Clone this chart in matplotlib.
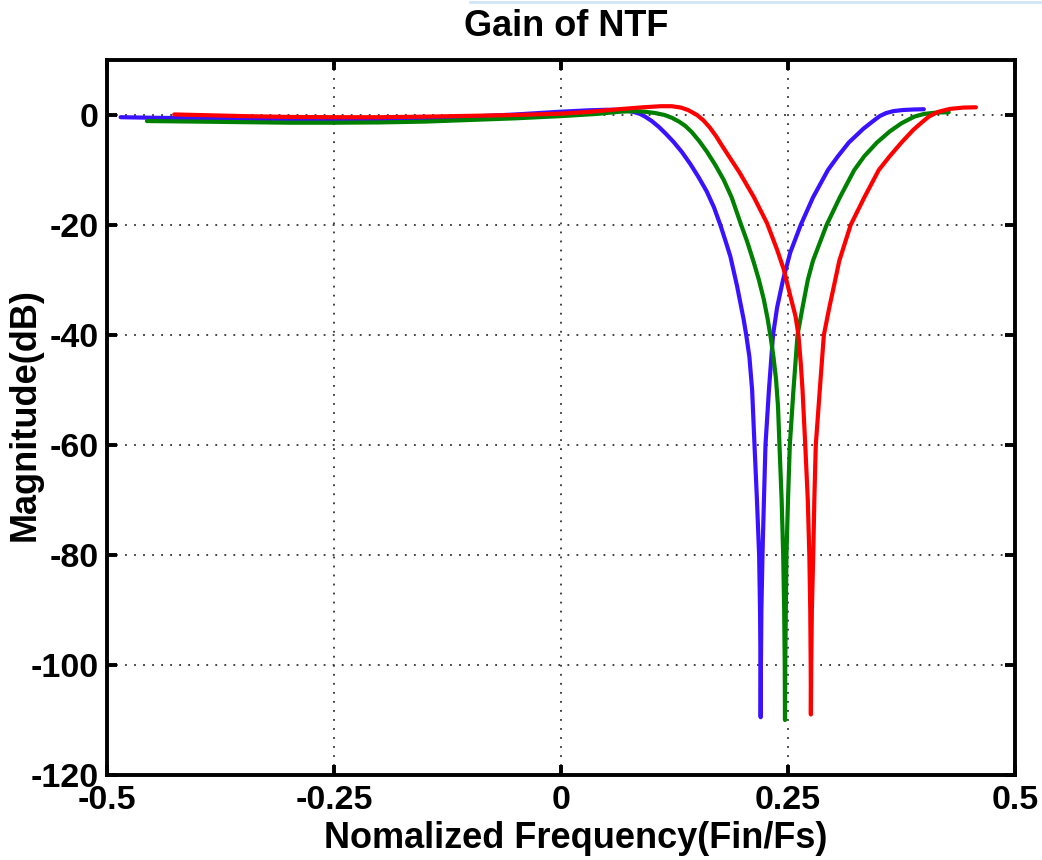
import matplotlib
matplotlib.use("Agg")
import matplotlib.pyplot as plt

# ---- data ----
blue_f = [-0.485, -0.45, -0.40, -0.35, -0.30, -0.25, -0.20, -0.15, -0.10, -0.05,
          0.0, 0.03, 0.05, 0.062, 0.072, 0.080, 0.087, 0.0927, 0.100, 0.108,
          0.116, 0.124, 0.133, 0.1424, 0.1515, 0.1605, 0.1685, 0.1755, 0.181, 0.1865,
          0.1939, 0.2012, 0.2040, 0.2075, 0.2105, 0.2131, 0.2158, 0.2182, 0.2192, 0.2197,
          0.2199,
          0.2202, 0.2207, 0.2219, 0.2235, 0.2252, 0.2290, 0.2335, 0.2380, 0.2445, 0.2525,
          0.2640, 0.2775, 0.2940, 0.3050, 0.3170, 0.3330, 0.3430, 0.3510, 0.3580, 0.3660,
          0.3760, 0.3880, 0.3996]
blue_db = [-0.4, -0.5, -0.6, -0.7, -0.8, -0.8, -0.75, -0.6, -0.3, 0.1,
           0.6, 0.85, 0.95, 0.95, 0.8, 0.55, 0.2, -0.3, -1.1, -2.2,
           -3.5, -4.9, -6.7, -8.9, -11.3, -13.9, -16.8, -20, -22.8, -25.7,
           -31.1, -37.2, -40, -44, -50, -60, -70, -80, -90, -100,
           -109.5,
           -100, -90, -80, -70, -60, -50, -40, -35, -30, -25,
           -20, -15, -10, -7.5, -5, -2.5, -1.2, -0.2, 0.35, 0.7,
           0.9, 1.0, 1.05]

green_f = [-0.456, -0.40, -0.35, -0.30, -0.25, -0.20, -0.15, -0.10, -0.05, 0.0,
           0.04, 0.065, 0.080, 0.092, 0.104, 0.114, 0.122, 0.130, 0.137, 0.144,
           0.1525, 0.1608, 0.170, 0.1792, 0.188, 0.1976, 0.2050, 0.2123, 0.2180, 0.2233,
           0.2275, 0.2310, 0.2340, 0.2368, 0.2390, 0.2406, 0.2430, 0.2447, 0.2458, 0.2464,
           0.2467,
           0.2470, 0.2476, 0.2483, 0.2500, 0.2520, 0.2560, 0.2605, 0.2660, 0.2718, 0.2775,
           0.2925, 0.3070, 0.3230, 0.3340, 0.3480, 0.3620, 0.3750, 0.3890, 0.4000, 0.4140,
           0.427]
green_db = [-1.1, -1.2, -1.3, -1.4, -1.4, -1.35, -1.2, -0.9, -0.6, -0.2,
            0.2, 0.6, 0.7, 0.6, 0.35, 0.0, -0.5, -1.2, -2.0, -3.1,
            -4.8, -6.7, -9.1, -11.8, -15.0, -19.6, -23.0, -26.8, -30.0, -33.5,
            -37.0, -40.5, -44, -48, -53, -60, -70, -80, -90, -100,
            -110,
            -100, -90, -80, -70, -60, -50, -40, -35, -30, -26.5,
            -20, -15, -10, -7.5, -5, -3, -1.5, -0.3, 0.2, 0.45,
            0.5]

red_f = [-0.426, -0.40, -0.35, -0.30, -0.25, -0.20, -0.15, -0.10, -0.05, 0.0,
         0.03, 0.06, 0.09, 0.110, 0.122, 0.132, 0.140, 0.1498, 0.157, 0.164,
         0.171, 0.179, 0.1968, 0.2123, 0.2270, 0.2380, 0.2454, 0.2527, 0.2583, 0.2615,
         0.2640, 0.2660, 0.2690, 0.2718, 0.2735, 0.2745, 0.2750,
         0.2752,
         0.2756, 0.2763, 0.2778, 0.2790, 0.2806, 0.2850, 0.2895, 0.2955, 0.3020, 0.3065,
         0.3190, 0.3340, 0.3500, 0.3620, 0.3750, 0.3880, 0.3970, 0.4050, 0.415, 0.428,
         0.443, 0.457]
red_db = [0.1, 0.0, -0.2, -0.35, -0.4, -0.4, -0.3, -0.15, 0.0, 0.25,
          0.55, 1.0, 1.4, 1.6, 1.6, 1.35, 0.9, 0.0, -1.0, -2.3,
          -3.9, -6.0, -10.5, -14.9, -19.7, -24.5, -28.1, -33, -36.6, -40,
          -45, -50, -60, -70, -80, -90, -100,
          -109,
          -100, -90, -80, -70, -60, -50, -40, -35, -30, -26.5,
          -20, -15, -10, -7.5, -5, -2.7, -1.4, -0.3, 0.55, 1.1,
          1.35, 1.4]

xticks = [-0.5, -0.25, 0, 0.25, 0.5]
xticklabels = ["-0.5", "-0.25", "0", "0.25", "0.5"]
yticks = [-120, -100, -80, -60, -40, -20, 0]
yticklabels = ["-120", "-100", "-80", "-60", "-40", "-20", "0"]

plt.rcParams['font.family'] = ['Liberation Sans', 'DejaVu Sans']
plt.rcParams['font.weight'] = 'bold'
plt.rcParams['axes.unicode_minus'] = False

W, H = 1042, 860
fig = plt.figure(figsize=(W / 100, H / 100), dpi=100)
ax = fig.add_axes([107 / W, 1 - 775 / H, (1015 - 107) / W, (775 - 60) / H])

# faint light-blue line at the very top of the image
fig.add_artist(plt.Line2D([470 / W, 1.0], [1 - 1.5 / H, 1 - 1.5 / H], color='#cfe6f7', lw=2.0))

lw = 3.0
for fx, dbv, col in [(blue_f, blue_db, '#3a12ff'),
                     (green_f, green_db, '#008000'),
                     (red_f, red_db, '#ff0000')]:
    ax.plot(fx, dbv, color=col, lw=lw, solid_capstyle='round',
            solid_joinstyle='round', zorder=3)

ax.set_xlim(-0.5, 0.5)
ax.set_ylim(-120, 10)
ax.set_xticks(xticks)
ax.set_xticklabels(xticklabels)
ax.set_yticks(yticks)
ax.set_yticklabels(yticklabels)

ax.grid(True, color='#333333', linestyle=(0, (1, 4)), linewidth=1.3)
ax.set_axisbelow(True)

for s in ax.spines.values():
    s.set_linewidth(2.8)
ax.tick_params(direction='in', length=7, width=2.8, top=True, right=True, labelsize=24.5)
ax.tick_params(axis='x', pad=7.5)
ax.tick_params(axis='y', pad=6)
for lab in ax.get_xticklabels() + ax.get_yticklabels():
    lab.set_fontweight('bold')

fig.text(566 / W, 1 - 27 / H, "Gain of NTF", fontsize=26, fontweight='bold',
         ha='center', va='center')
fig.text(576 / W, 1 - 838 / H, "Nomalized Frequency(Fin/Fs)", fontsize=26, fontweight='bold',
         ha='center', va='center')
fig.text(25 / W, 1 - 415 / H, "Magnitude(dB)", fontsize=26, fontweight='bold',
         ha='center', va='center', rotation=90)

fig.savefig("out.png", dpi=100)
